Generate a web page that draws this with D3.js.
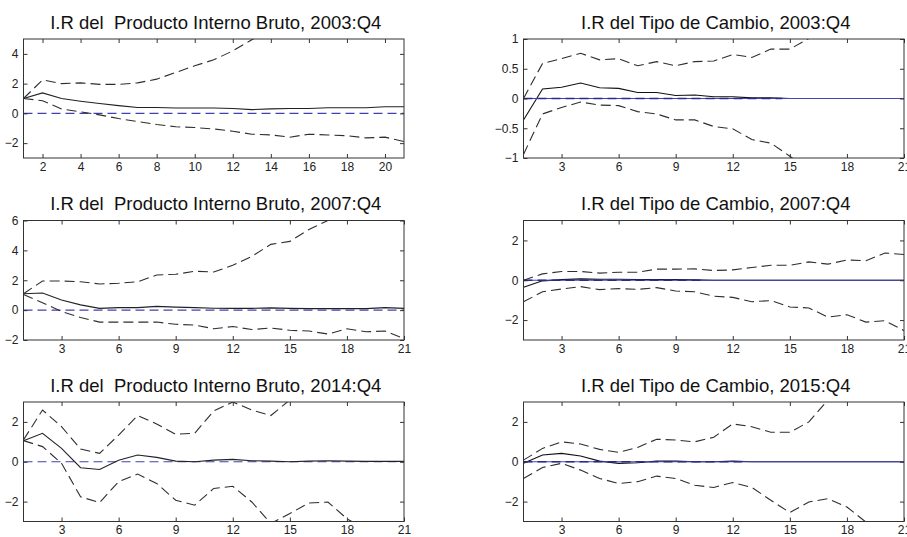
<!DOCTYPE html>
<html><head><meta charset="utf-8">
<script src="https://cdn.jsdelivr.net/npm/d3@7/dist/d3.min.js"></script>
<style>body{margin:0;background:#fff}svg{display:block}</style>
</head><body>
<svg id="c" width="907" height="537"></svg>
<script>
// ---------- DATA ----------
const horizon = [1,2,3,4,5,6,7,8,9,10,11,12,13,14,15,16,17,18,19,20,21];

const titles = [
  "I.R del  Producto Interno Bruto, 2003:Q4",
  "I.R del Tipo de Cambio, 2003:Q4",
  "I.R del  Producto Interno Bruto, 2007:Q4",
  "I.R del Tipo de Cambio, 2007:Q4",
  "I.R del  Producto Interno Bruto, 2014:Q4",
  "I.R del Tipo de Cambio, 2015:Q4"
];

// PIB 2003:Q4
const pib03Irf   = [1.0,1.38,1.0,0.82,0.66,0.52,0.4,0.4,0.36,0.36,0.36,0.33,0.25,0.3,0.33,0.33,0.38,0.38,0.38,0.45,0.45];
const pib03Upper = [1.0,2.25,2.0,2.05,1.95,1.95,2.05,2.3,2.75,3.2,3.6,4.2,4.95,5.6,6.2,6.8,7.3,7.8,8.3,8.8,9.3];
const pib03Lower = [1.0,0.85,0.3,0.1,-0.1,-0.35,-0.55,-0.75,-0.9,-0.95,-1.05,-1.2,-1.4,-1.45,-1.6,-1.4,-1.45,-1.5,-1.65,-1.6,-1.9];
// Tipo de cambio 2003:Q4
const tc03Irf   = [-0.36,0.16,0.19,0.26,0.18,0.17,0.1,0.1,0.05,0.06,0.03,0.03,0.01,0.01,0,0,0,0,0,0,0];
const tc03Upper = [0.0,0.59,0.67,0.76,0.65,0.67,0.55,0.62,0.55,0.62,0.63,0.74,0.69,0.83,0.83,1.01,1.2,1.4,1.5,1.7,1.9];
const tc03Lower = [-0.94,-0.26,-0.15,-0.06,-0.11,-0.12,-0.22,-0.26,-0.36,-0.36,-0.47,-0.51,-0.69,-0.75,-0.97,-1.2,-1.4,-1.6,-1.8,-2.0,-2.2];
// PIB 2007:Q4
const pib07Irf   = [1.1,1.15,0.68,0.35,0.12,0.17,0.17,0.25,0.2,0.17,0.13,0.12,0.12,0.15,0.12,0.1,0.1,0.1,0.1,0.17,0.12];
const pib07Upper = [1.1,1.95,1.95,1.9,1.75,1.8,1.9,2.35,2.4,2.6,2.55,3.0,3.6,4.4,4.6,5.4,6.0,6.6,7.1,7.6,8.0];
const pib07Lower = [1.05,0.5,-0.1,-0.5,-0.8,-0.8,-0.8,-0.8,-0.95,-1.0,-1.25,-1.1,-1.3,-1.2,-1.35,-1.4,-1.6,-1.25,-1.45,-1.4,-1.9];
// Tipo de cambio 2007:Q4
const tc07Irf   = [-0.35,-0.03,0.03,0.07,0.05,0.05,0.04,0.03,0.03,0.02,0,0,0,0,0,0,0,0,0,0,0];
const tc07Upper = [0.0,0.32,0.44,0.44,0.36,0.4,0.4,0.56,0.56,0.57,0.49,0.52,0.64,0.75,0.75,0.92,0.81,1.02,0.98,1.37,1.29];
const tc07Lower = [-1.08,-0.58,-0.44,-0.32,-0.47,-0.42,-0.46,-0.37,-0.54,-0.58,-0.8,-0.86,-1.08,-1.02,-1.34,-1.39,-1.85,-1.73,-2.1,-2.03,-2.53];
// PIB 2014:Q4
const pib14Irf   = [1.06,1.43,0.67,-0.3,-0.39,0.08,0.34,0.22,0.03,0.0,0.08,0.12,0.05,0.03,0.0,0.03,0.05,0.03,0.02,0.02,0.02];
const pib14Upper = [1.1,2.6,1.76,0.64,0.42,1.34,2.32,1.9,1.38,1.43,2.55,3.0,2.6,2.32,3.1,3.8,4.5,5.0,5.5,6.0,6.5];
const pib14Lower = [1.06,0.76,-0.08,-1.76,-2.05,-1.0,-0.62,-1.09,-1.93,-2.18,-1.34,-1.23,-2.02,-3.1,-2.6,-2.07,-2.02,-2.86,-3.4,-3.8,-4.2];
// Tipo de cambio 2015:Q4
const tc15Irf   = [-0.08,0.34,0.42,0.29,0.03,-0.08,-0.05,0.03,0.03,0,0,0.03,0,0,0,0,0,0,0,0,0];
const tc15Upper = [0.08,0.67,1.0,0.89,0.62,0.47,0.72,1.13,1.09,1.0,1.23,1.9,1.76,1.48,1.48,2.0,3.1,4.0,4.8,5.5,6.0];
const tc15Lower = [-0.84,-0.29,-0.08,-0.42,-0.84,-1.09,-1.0,-0.72,-0.84,-1.18,-1.29,-1.04,-1.29,-1.93,-2.55,-2.02,-1.85,-2.27,-3.03,-3.5,-4.0];

// axis ranges and tick labels
const yRanges = [[-3,5],[-1,1],[-2,6],[-3,3],[-3,3],[-3,3]];
const yTickValues = [[-2,0,2,4],[-1,-0.5,0,0.5,1],[-2,0,2,4,6],[-2,0,2],[-2,0,2],[-2,0,2]];
const xTickValues = [[2,4,6,8,10,12,14,16,18,20],[3,6,9,12,15,18,21],[3,6,9,12,15,18,21],[3,6,9,12,15,18,21],[3,6,9,12,15,18,21],[3,6,9,12,15,18,21]];
const zeroDashEnd = [null,14.6,null,10.5,null,12.5];

const irfs   = [pib03Irf, tc03Irf, pib07Irf, tc07Irf, pib14Irf, tc15Irf];
const uppers = [pib03Upper, tc03Upper, pib07Upper, tc07Upper, pib14Upper, tc15Upper];
const lowers = [pib03Lower, tc03Lower, pib07Lower, tc07Lower, pib14Lower, tc15Lower];

// ---------- LAYOUT ----------
const colX = [[23.5,404],[523.5,904]];
const rowY = [[39,158],[220.5,340],[402,521.5]];
const font = "'Liberation Sans', Arial, sans-serif";

const svg = d3.select("#c");

for (let i = 0; i < 6; i++) {
  const col = i % 2, row = Math.floor(i / 2);
  const [x0, x1] = colX[col];
  const [y0, y1] = rowY[row];
  const x = d3.scaleLinear().domain([1, 21]).range([x0, x1]);
  const y = d3.scaleLinear().domain(yRanges[i]).range([y1, y0]);
  const g = svg.append("g");

  const clipId = "clip" + i;
  svg.append("clipPath").attr("id", clipId)
    .append("rect").attr("x", x0).attr("y", y0).attr("width", x1 - x0).attr("height", y1 - y0);

  // title
  g.append("text").attr("x", (x0 + x1) / 2 + 2).attr("y", y0 - 10.5)
    .attr("text-anchor", "middle").attr("font-family", font).attr("font-size", 18.5)
    .attr("fill", "#111").style("white-space", "pre").text(titles[i]);

  const plot = g.append("g").attr("clip-path", `url(#${clipId})`);
  const line = d3.line().x((d, k) => x(horizon[k])).y(d => y(d));

  const isRight = col === 1;
  if (isRight) {
    plot.append("path").attr("d", line(irfs[i])).attr("fill", "none")
      .attr("stroke", "#111").attr("stroke-width", 1.1);
    plot.append("line").attr("x1", x(1)).attr("x2", x(21)).attr("y1", y(0)).attr("y2", y(0))
      .attr("stroke", "#4444b4").attr("stroke-width", 1.1);
    plot.append("line").attr("x1", x(1)).attr("x2", x(zeroDashEnd[i])).attr("y1", y(0)).attr("y2", y(0))
      .attr("stroke", "#2a2a8a").attr("stroke-width", 1.6).attr("stroke-dasharray", "9,5");
  } else {
    plot.append("line").attr("x1", x(1)).attr("x2", x(21)).attr("y1", y(0)).attr("y2", y(0))
      .attr("stroke", "#4040b4").attr("stroke-width", 1.1).attr("stroke-dasharray", "9,5");
    plot.append("path").attr("d", line(irfs[i])).attr("fill", "none")
      .attr("stroke", "#222").attr("stroke-width", 1.1);
  }
  [uppers[i], lowers[i]].forEach(s => {
    plot.append("path").attr("d", line(s)).attr("fill", "none")
      .attr("stroke", "#2e2e2e").attr("stroke-width", 1.1).attr("stroke-dasharray", "10,5");
  });

  // axes
  const axB = d3.axisBottom(x).tickValues(xTickValues[i]).tickSizeInner(-4).tickSizeOuter(0).tickPadding(4);
  const axT = d3.axisTop(x).tickValues(xTickValues[i]).tickSizeInner(-4).tickSizeOuter(0).tickFormat("");
  const axL = d3.axisLeft(y).tickValues(yTickValues[i]).tickSizeInner(-4).tickSizeOuter(0).tickPadding(5)
    .tickFormat(d3.format(""));
  const axR = d3.axisRight(y).tickValues(yTickValues[i]).tickSizeInner(-4).tickSizeOuter(0).tickFormat("");

  const styleAxis = sel => {
    sel.select(".domain").remove();
    sel.selectAll(".tick line").attr("stroke", "#333");
    sel.selectAll("text").attr("font-family", font).attr("font-size", 12).attr("fill", "#222");
  };
  g.append("g").attr("transform", `translate(0,${y1})`).call(axB).call(styleAxis);
  g.append("g").attr("transform", `translate(0,${y0})`).call(axT).call(styleAxis);
  g.append("g").attr("transform", `translate(${x0},0)`).call(axL).call(styleAxis);
  g.append("g").attr("transform", `translate(${x1},0)`).call(axR).call(styleAxis);

  g.append("rect").attr("x", x0).attr("y", y0).attr("width", x1 - x0).attr("height", y1 - y0)
    .attr("fill", "none").attr("stroke", "#333").attr("stroke-width", 1);
}
</script>
</body></html>
